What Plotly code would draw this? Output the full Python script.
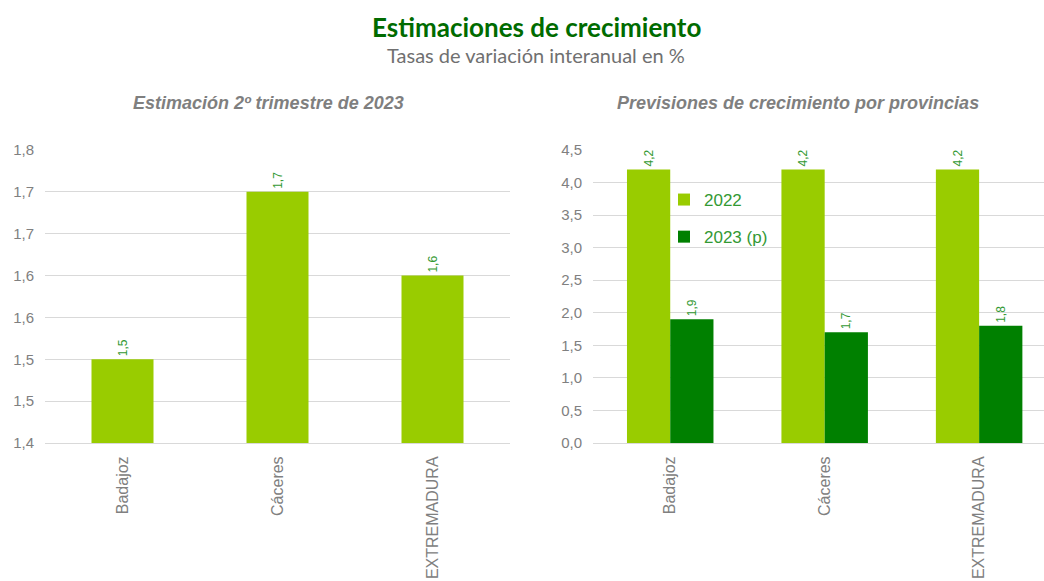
import plotly.graph_objects as go

categories = ["Badajoz", "Cáceres", "EXTREMADURA"]
q2_2023 = [1.5, 1.7, 1.6]
prev_2022 = [4.2, 4.2, 4.2]
prev_2023p = [1.9, 1.7, 1.8]

left_tick_vals = [1.40, 1.45, 1.50, 1.55, 1.60, 1.65, 1.70, 1.75]
left_tick_text = ["1,4", "1,5", "1,5", "1,6", "1,6", "1,7", "1,7", "1,8"]
right_tick_vals = [0, 0.5, 1, 1.5, 2, 2.5, 3, 3.5, 4, 4.5]
right_tick_text = ["0,0", "0,5", "1,0", "1,5", "2,0", "2,5", "3,0", "3,5", "4,0", "4,5"]

LIGHT = "#99CC00"
DARK = "#008000"
LABEL_GREEN = "#339933"
GRAY = "#808080"
GRID = "#D9D9D9"

W, H = 1044, 581

fig = go.Figure()

fig.add_trace(go.Bar(
    x=categories, y=q2_2023, xaxis="x", yaxis="y",
    marker=dict(color=LIGHT, line=dict(width=0)), width=0.4,
    text=[f"{v:.1f}".replace(".", ",") for v in q2_2023],
    textposition="outside", textangle=-90, cliponaxis=False,
    textfont=dict(color=LABEL_GREEN, size=12, family="Liberation Sans"),
    showlegend=False,
))

fig.add_trace(go.Bar(
    x=categories, y=prev_2022, xaxis="x2", yaxis="y2", name="2022",
    marker=dict(color=LIGHT, line=dict(width=0)), width=0.28, offset=-0.28,
    text=[f"{v:.1f}".replace(".", ",") for v in prev_2022],
    textposition="outside", textangle=-90, cliponaxis=False,
    textfont=dict(color=LABEL_GREEN, size=12, family="Liberation Sans"),
    legendgroup="a",
))
fig.add_trace(go.Bar(
    x=categories, y=prev_2023p, xaxis="x2", yaxis="y2", name="2023 (p)",
    marker=dict(color=DARK, line=dict(width=0)), width=0.28, offset=0.0,
    text=[f"{v:.1f}".replace(".", ",") for v in prev_2023p],
    textposition="outside", textangle=-90, cliponaxis=False,
    textfont=dict(color=LABEL_GREEN, size=12, family="Liberation Sans"),
    legendgroup="b",
))

y_dom = [(H - 443) / H, (H - 150) / H]
tickfont = dict(family="Liberation Sans", size=15, color=GRAY)
xtickfont = dict(family="Liberation Sans", size=16, color=GRAY)

fig.update_layout(
    width=W, height=H,
    margin=dict(l=0, r=0, t=0, b=0, autoexpand=False),
    paper_bgcolor="white", plot_bgcolor="white",
    separators=",.",
    barmode="overlay",
    xaxis=dict(domain=[45 / W, 510 / W], range=[-0.5, 2.5], tickangle=-90,
               tickfont=xtickfont, showgrid=False, showline=True,
               linecolor=GRID, linewidth=1, ticks="", anchor="y",
               automargin=False, ticklabelstandoff=6),
    yaxis=dict(domain=y_dom, range=[1.4, 1.75], tickvals=left_tick_vals,
               ticktext=left_tick_text, tickfont=tickfont, showgrid=True,
               gridcolor=GRID, gridwidth=1, zeroline=False, anchor="x",
               ticks="", showline=False, automargin=False, ticklabelstandoff=10),
    xaxis2=dict(domain=[593 / W, 1.0], range=[-0.5, 2.42], tickangle=-90,
                tickfont=xtickfont, showgrid=False, showline=True,
                linecolor=GRID, linewidth=1, ticks="", anchor="y2",
                automargin=False, ticklabelstandoff=6),
    yaxis2=dict(domain=y_dom, range=[0, 4.5], tickvals=right_tick_vals,
                ticktext=right_tick_text, tickfont=tickfont, showgrid=True,
                gridcolor=GRID, gridwidth=1, zeroline=False, anchor="x2",
                ticks="", showline=False, automargin=False, ticklabelstandoff=10),
    legend=dict(x=664 / W, y=(H - 182) / H, xanchor="left", yanchor="top",
                bgcolor="rgba(0,0,0,0)", tracegroupgap=12,
                font=dict(family="Liberation Sans", size=17, color=LABEL_GREEN),
                itemwidth=30),
    annotations=[
        dict(text="<b>Estimaciones de crecimiento</b>", x=536 / W, y=(H - 27) / H,
             xref="paper", yref="paper", showarrow=False, xanchor="center", yanchor="middle",
             font=dict(family="Lato", size=26, color="#006B00")),
        dict(text="Tasas de variación interanual en %", x=536 / W, y=(H - 55) / H,
             xref="paper", yref="paper", showarrow=False, xanchor="center", yanchor="middle",
             font=dict(family="Lato", size=20, color="#707070")),
        dict(text="<b><i>Estimación 2º trimestre de 2023</i></b>", x=268 / W, y=(H - 103) / H,
             xref="paper", yref="paper", showarrow=False, xanchor="center", yanchor="middle",
             font=dict(family="Liberation Sans", size=18, color="#7F7F7F")),
        dict(text="<b><i>Previsiones de crecimiento por provincias</i></b>", x=798 / W, y=(H - 103) / H,
             xref="paper", yref="paper", showarrow=False, xanchor="center", yanchor="middle",
             font=dict(family="Liberation Sans", size=18, color="#7F7F7F")),
    ],
)

fig.write_html("out.html", config={"displayModeBar": False},
               post_script="document.body.style.margin='0';document.body.style.overflow='hidden';")
